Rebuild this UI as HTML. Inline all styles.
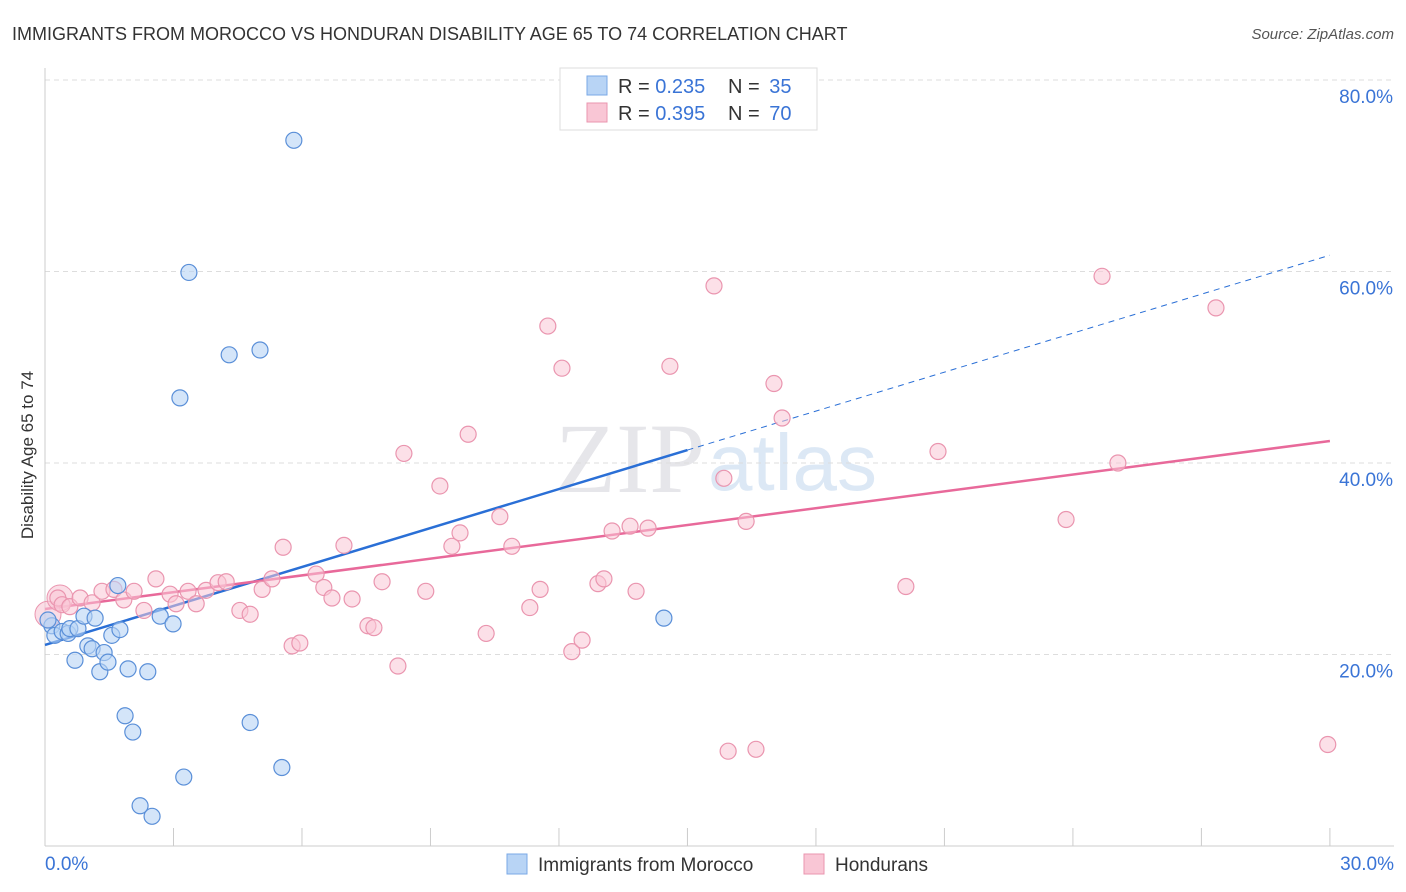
<!DOCTYPE html>
<html><head><meta charset="utf-8"><style>
body{margin:0;background:#fff;font-family:"Liberation Sans",sans-serif;}
svg{display:block}
</style></head><body>
<svg id="chart" width="1406" height="892">
<text x="12" y="40" font-size="18" fill="#333">IMMIGRANTS FROM MOROCCO VS HONDURAN DISABILITY AGE 65 TO 74 CORRELATION CHART</text>
<text x="1394" y="39" font-size="15" fill="#555" text-anchor="end" font-style="italic">Source: ZipAtlas.com</text>
<text transform="translate(33,455) rotate(-90)" font-size="17" fill="#333" text-anchor="middle">Disability Age 65 to 74</text>
<text x="555" y="492" font-size="100" fill="#e6e6ea" font-family="Liberation Serif,serif">ZIP</text>
<text x="708" y="490" font-size="80" fill="#dce8f5">atlas</text>
<g id="grid"></g><g id="axes"></g><g id="lines"></g><g id="pts"></g>
<g>
<rect x="560" y="68" width="257" height="62" fill="#fff" stroke="#ddd"/>
<rect x="587" y="76" width="20" height="19" fill="#b8d4f5" stroke="#7aa8e6"/>
<text x="618" y="93" font-size="20" fill="#333">R = <tspan fill="#3a74d6">0.235</tspan></text>
<text x="728" y="93" font-size="20" fill="#333">N = <tspan fill="#3a74d6" dx="4">35</tspan></text>
<rect x="587" y="103" width="20" height="19" fill="#f9c6d5" stroke="#ea95af"/>
<text x="618" y="120" font-size="20" fill="#333">R = <tspan fill="#3a74d6">0.395</tspan></text>
<text x="728" y="120" font-size="20" fill="#333">N = <tspan fill="#3a74d6" dx="4">70</tspan></text>
</g>
<g>
<rect x="507" y="854" width="20" height="20" fill="#b8d4f5" stroke="#7aa8e6"/>
<text x="538" y="871" font-size="19" fill="#333">Immigrants from Morocco</text>
<rect x="804" y="854" width="20" height="20" fill="#f9c6d5" stroke="#ea95af"/>
<text x="835" y="871" font-size="19" fill="#333">Hondurans</text>
</g>
</svg>
<script>
const yTicks=[20,40,60,80];
const yTickLabels=["20.0%","40.0%","60.0%","80.0%"];
const xTickVals=[0,3,6,9,12,15,18,21,24,27,30];
const moroccoX=[0.16,0.23,0.40,0.54,0.58,0.77,0.91,1.17,1.00,1.10,0.70,1.28,1.38,1.47,1.56,1.70,1.75,1.94,2.40,1.87,2.05,2.22,2.50,2.69,2.99,3.15,3.24,3.36,4.30,5.02,4.79,5.53,5.81,14.45,0.07];
const moroccoY=[23.0,22.0,22.4,22.2,22.7,22.7,24.0,23.8,20.9,20.6,19.4,18.2,20.2,19.2,22.0,27.2,22.6,18.5,18.2,13.6,11.9,4.2,3.1,24.0,23.2,46.8,7.2,59.9,51.3,51.8,12.9,8.2,73.7,23.8,23.6];
const hondX=[0.30,0.40,0.58,0.82,1.10,1.33,1.61,1.84,2.08,2.31,2.59,2.92,3.06,3.34,3.53,3.76,4.04,4.23,4.55,4.79,5.07,5.30,5.56,5.77,5.95,6.33,6.51,6.70,6.98,7.17,7.54,7.68,7.87,8.24,8.38,8.89,9.22,9.50,9.69,9.88,10.30,10.62,10.90,11.32,11.56,11.74,12.07,12.30,12.54,12.91,13.05,13.24,13.66,13.80,14.08,14.59,15.62,15.95,15.85,16.37,16.60,17.02,17.21,20.10,20.85,23.84,24.68,25.05,27.34,29.95];
const hondY=[25.9,25.2,25.0,25.9,25.4,26.6,26.8,25.7,26.6,24.6,27.9,26.3,25.3,26.6,25.3,26.7,27.5,27.6,24.6,24.2,26.8,27.9,31.2,20.9,21.2,28.4,27.0,25.9,31.4,25.8,23.0,22.8,27.6,18.8,41.0,26.6,37.6,31.3,32.7,43.0,22.2,34.4,31.3,24.9,26.8,54.3,49.9,20.3,21.5,27.4,27.9,32.9,33.4,26.6,33.2,50.1,58.5,9.9,38.4,33.9,10.1,48.3,44.7,27.1,41.2,34.1,59.5,40.0,56.2,10.6];
const hondBig=[[0.07,24.2],[0.35,25.9]];
const moroccoLine=[21.0,61.7];
const hondLine=[24.75,42.3];
const X=v=>45+v*42.83, Y=v=>846-v*9.575;
const NS="http://www.w3.org/2000/svg";
function mk(tag,attrs,parent){const e=document.createElementNS(NS,tag);for(const k in attrs)e.setAttribute(k,attrs[k]);document.getElementById(parent).appendChild(e);return e;}
yTicks.forEach((t,i)=>{
 const g=mk('line',{x1:45,x2:1394,y1:Y(t),y2:Y(t),stroke:'#ddd','stroke-dasharray':'5,4'},'grid');
 
 
 const l=mk('text',{x:1393,y:Y(t)+23,'font-size':19,fill:'#3a74d6','text-anchor':'end'},'grid');
 l.textContent=yTickLabels[i];
 
 
});
mk('line',{x1:45,x2:45,y1:68,y2:846,stroke:'#ccc'},'axes');
mk('line',{x1:45,x2:1394,y1:846,y2:846,stroke:'#ccc'},'axes');
xTickVals.forEach(v=>{const t=mk('line',{x1:X(v),x2:X(v),y1:828,y2:846,stroke:'#ccc'},'axes');
 
 });
const xl=mk('text',{x:45,y:870,'font-size':19,fill:'#3a74d6'},'axes');xl.textContent='0.0%';


const xr=mk('text',{x:1394,y:870,'font-size':19,fill:'#3a74d6','text-anchor':'end'},'axes');xr.textContent='30.0%';


const bx=15.0, by=moroccoLine[0]+(moroccoLine[1]-moroccoLine[0])*bx/30;
let l1=mk('line',{x1:X(0),y1:Y(moroccoLine[0]),x2:X(bx),y2:Y(by),stroke:'#2a6fd6','stroke-width':2.5},'lines');


let l2=mk('line',{x1:X(bx),y1:Y(by),x2:X(30),y2:Y(moroccoLine[1]),stroke:'#2a6fd6','stroke-width':1,'stroke-dasharray':'6,5'},'lines');


let l3=mk('line',{x1:X(0),y1:Y(hondLine[0]),x2:X(30),y2:Y(hondLine[1]),stroke:'#e8699a','stroke-width':2.5},'lines');


hondBig.forEach(p=>{const c=mk('circle',{cx:X(p[0]),cy:Y(p[1]),r:13,fill:'#f9c6d5','fill-opacity':0.6,stroke:'#ea95af'},'pts');
 
 });
hondX.forEach((x,i)=>{const c=mk('circle',{cx:X(x),cy:Y(hondY[i]),r:8,fill:'#f9c6d5','fill-opacity':0.55,stroke:'#ea95af','stroke-width':1.2},'pts');
 
 });
moroccoX.forEach((x,i)=>{const c=mk('circle',{cx:X(x),cy:Y(moroccoY[i]),r:8,fill:'#b8d4f5','fill-opacity':0.6,stroke:'#5a8fd8','stroke-width':1.2},'pts');
 
 });
</script>
</body></html>
